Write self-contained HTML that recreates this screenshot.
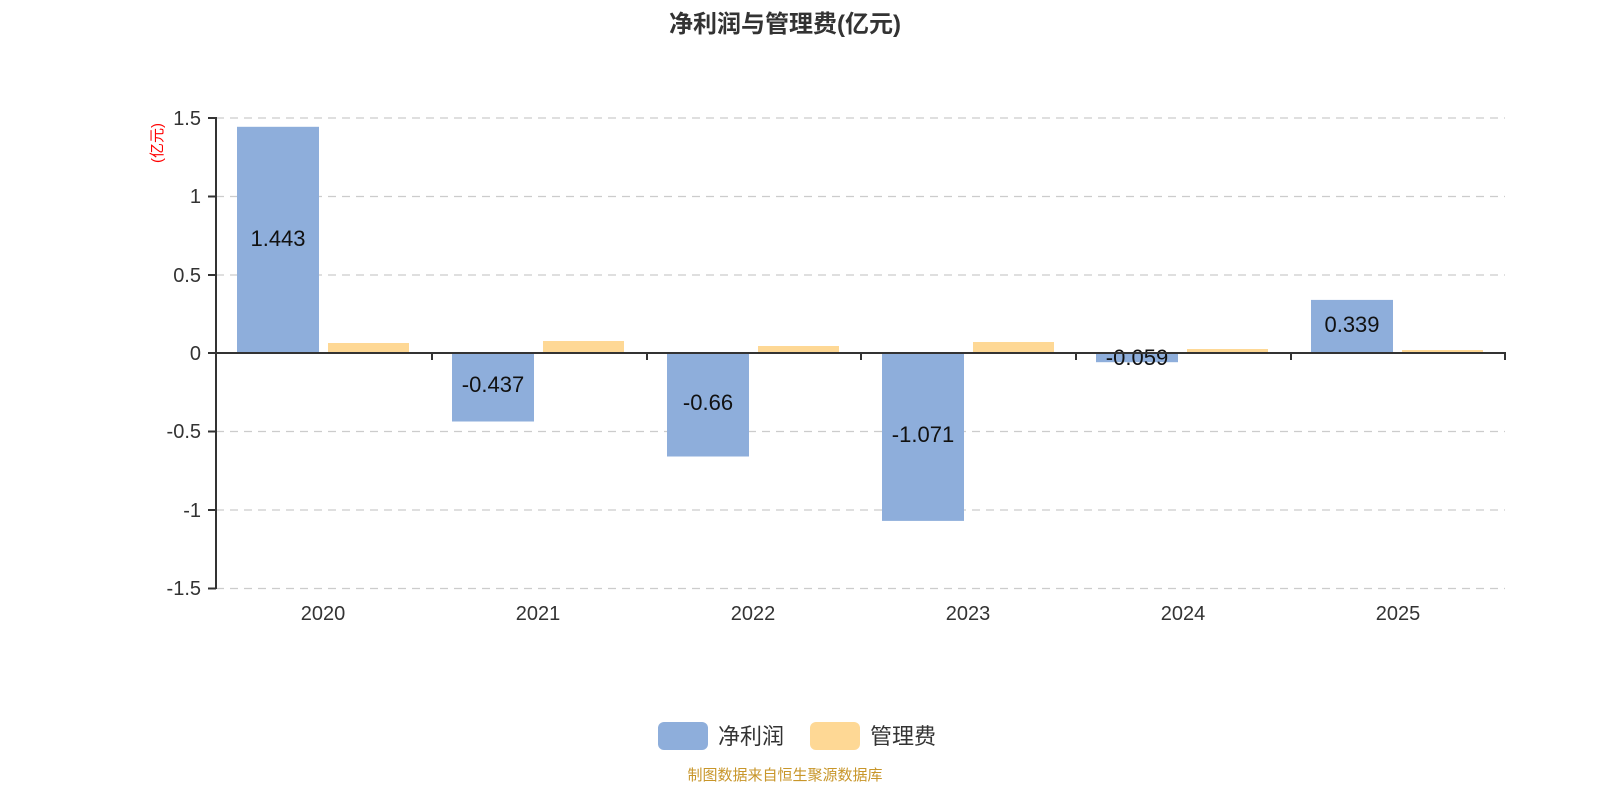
<!DOCTYPE html>
<html><head><meta charset="utf-8"><style>
html,body{margin:0;padding:0;background:#fff;width:1600px;height:800px;overflow:hidden}
text{font-family:"Liberation Sans","Noto Sans CJK SC",sans-serif}
</style></head><body>
<svg width="1600" height="800" xmlns="http://www.w3.org/2000/svg">
<text x="785" y="32" text-anchor="middle" font-size="24" font-weight="bold" fill="#333">净利润与管理费(亿元)</text>
<g stroke="#ccc" stroke-width="1.3" stroke-dasharray="8,6">
<line x1="216" y1="118" x2="1505" y2="118"/>
<line x1="216" y1="196.5" x2="1505" y2="196.5"/>
<line x1="216" y1="275" x2="1505" y2="275"/>
<line x1="216" y1="431.5" x2="1505" y2="431.5"/>
<line x1="216" y1="510" x2="1505" y2="510"/>
<line x1="216" y1="588.5" x2="1505" y2="588.5"/>
</g>
<g fill="#8eaedb">
<rect x="237" y="126.8" width="82" height="226.2"/>
<rect x="452" y="353" width="82" height="68.5"/>
<rect x="667" y="353" width="82" height="103.5"/>
<rect x="882" y="353" width="82" height="167.9"/>
<rect x="1096" y="353" width="82" height="9.2"/>
<rect x="1311" y="299.9" width="82" height="53.1"/>
</g>
<g fill="#fed895">
<rect x="328" y="343" width="81" height="10"/>
<rect x="543" y="341" width="81" height="12"/>
<rect x="758" y="346" width="81" height="7"/>
<rect x="973" y="342" width="81" height="11"/>
<rect x="1187" y="349" width="81" height="4"/>
<rect x="1402" y="350" width="81" height="3"/>
</g>
<g font-size="22" fill="#111" text-anchor="middle">
<text x="278" y="246">1.443</text>
<text x="493" y="392">-0.437</text>
<text x="708" y="410">-0.66</text>
<text x="923" y="442">-1.071</text>
<text x="1137" y="365">-0.059</text>
<text x="1352" y="332">0.339</text>
</g>
<g stroke="#333" stroke-width="2">
<line x1="216" y1="117" x2="216" y2="589"/>
<line x1="215" y1="353" x2="1506" y2="353"/>
<line x1="208" y1="118" x2="216" y2="118"/>
<line x1="208" y1="196.5" x2="216" y2="196.5"/>
<line x1="208" y1="275" x2="216" y2="275"/>
<line x1="208" y1="353" x2="216" y2="353"/>
<line x1="208" y1="431.5" x2="216" y2="431.5"/>
<line x1="208" y1="510" x2="216" y2="510"/>
<line x1="208" y1="588.5" x2="216" y2="588.5"/>
<line x1="432" y1="353" x2="432" y2="360"/>
<line x1="647" y1="353" x2="647" y2="360"/>
<line x1="861" y1="353" x2="861" y2="360"/>
<line x1="1076" y1="353" x2="1076" y2="360"/>
<line x1="1291" y1="353" x2="1291" y2="360"/>
<line x1="1505" y1="353" x2="1505" y2="360"/>
</g>
<g font-size="20" fill="#333" text-anchor="end">
<text x="201" y="125">1.5</text>
<text x="201" y="203">1</text>
<text x="201" y="282">0.5</text>
<text x="201" y="360">0</text>
<text x="201" y="438">-0.5</text>
<text x="201" y="517">-1</text>
<text x="201" y="595">-1.5</text>
</g>
<text transform="translate(162,143) rotate(-90)" font-size="15" fill="#f00" text-anchor="middle">(亿元)</text>
<g font-size="20" fill="#333" text-anchor="middle">
<text x="323" y="620">2020</text>
<text x="538" y="620">2021</text>
<text x="753" y="620">2022</text>
<text x="968" y="620">2023</text>
<text x="1183" y="620">2024</text>
<text x="1398" y="620">2025</text>
</g>
<rect x="658" y="722" width="50" height="28" rx="6" fill="#8eaedb"/>
<text x="718" y="744" font-size="22" fill="#333">净利润</text>
<rect x="810" y="722" width="50" height="28" rx="6" fill="#fed895"/>
<text x="870" y="744" font-size="22" fill="#333">管理费</text>
<text x="785" y="780" font-size="15" fill="#c8962a" text-anchor="middle">制图数据来自恒生聚源数据库</text>
</svg>
</body></html>
